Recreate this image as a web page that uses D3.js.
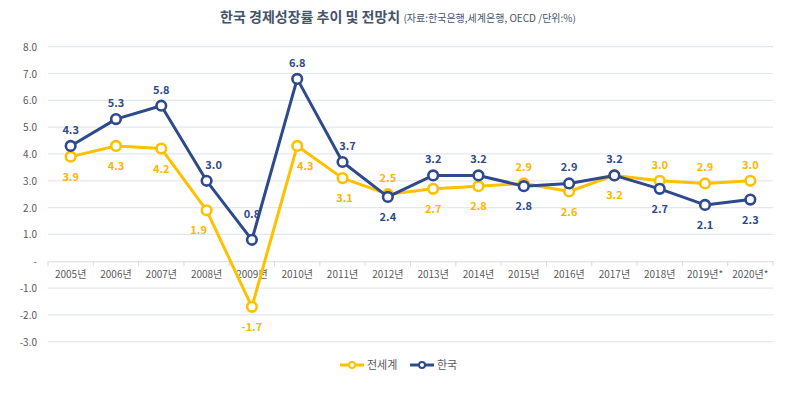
<!DOCTYPE html>
<html>
<head>
<meta charset="utf-8">
<script src="https://cdn.jsdelivr.net/npm/d3@7"></script>
<style>
  body { margin: 0; background: #fff; }
  text { font-family: "Noto Sans CJK KR", "Noto Sans", sans-serif; }
</style>
</head>
<body>
<div id="chart"></div>
<script>
// 데이터
const years = ["2005년","2006년","2007년","2008년","2009년","2010년","2011년","2012년",
  "2013년","2014년","2015년","2016년","2017년","2018년","2019년*","2020년*"];
const world = [3.9,4.3,4.2,1.9,-1.7,4.3,3.1,2.5,2.7,2.8,2.9,2.6,3.2,3.0,2.9,3.0];
const korea = [4.3,5.3,5.8,3.0,0.8,6.8,3.7,2.4,3.2,3.2,2.8,2.9,3.2,2.7,2.1,2.3];
const yTicks = [8,7,6,5,4,3,2,1,0,-1,-2,-3];

// 라벨 위치 보정 (엑셀 자동 배치 흉내)
const nudge = {
  "한국|2008년": [7, 0], "한국|2009년": [0, -10], "한국|2011년": [5, 0],
  "전세계|2008년": [-8, 0], "전세계|2010년": [8, 0], "전세계|2011년": [2, 0]
};

const width = 800, height = 393;
const margin = { left: 48, right: 27, top: 46.7, bottom: 51.3 };

const svg = d3.select("#chart").append("svg")
  .attr("width", width).attr("height", height);

const x = d3.scaleBand().domain(years).range([margin.left, width - margin.right]);
const y = d3.scaleLinear().domain([-3, 8]).range([height - margin.bottom, margin.top]);

// 그리드
svg.append("g").selectAll("line")
  .data(yTicks.filter(d => d !== 0))
  .enter().append("line")
  .attr("x1", margin.left).attr("x2", width - margin.right)
  .attr("y1", d => y(d)).attr("y2", d => y(d))
  .attr("stroke", "#e3e7ee").attr("stroke-width", 1.2);

// y축 라벨
svg.append("g").selectAll("text")
  .data(yTicks)
  .enter().append("text")
  .attr("x", 37).attr("y", d => y(d) + 4)
  .attr("text-anchor", "end")
  .attr("font-size", 10).attr("fill", "#595959")
  .text(d => d === 0 ? "-" : d.toFixed(1));

// x축 (0 기준선)
const xAxis = d3.axisBottom(x).tickSize(0).tickPadding(10);
const gx = svg.append("g").attr("transform", `translate(0,${y(0)})`).call(xAxis);
gx.select(".domain").attr("stroke", "#d9d9d9");
gx.selectAll("text").attr("font-size", 10).attr("fill", "#595959")
  .attr("font-family", "'Noto Sans CJK KR', sans-serif");
gx.append("g").selectAll("line")
  .data(years.concat([null]))
  .enter().append("line")
  .attr("x1", (d, i) => margin.left + i * x.step())
  .attr("x2", (d, i) => margin.left + i * x.step())
  .attr("y1", 0).attr("y2", 5)
  .attr("stroke", "#d9d9d9");

const cx = d => x(d) + x.bandwidth() / 2;
const line = d3.line().x(d => cx(d.year)).y(d => y(d.v));

const series = [
  { name: "전세계", values: world, other: korea, color: "#ffc000", labelColor: "#ffb400", tie: 1 },
  { name: "한국", values: korea, other: world, color: "#2e4a8c", labelColor: "#2e4a8c", tie: -1 }
];

series.forEach(s => {
  const pts = s.values.map((v, i) => ({ year: years[i], v, o: s.other[i] }));
  svg.append("path").datum(pts)
    .attr("fill", "none").attr("stroke", s.color)
    .attr("stroke-width", 3).attr("stroke-linejoin", "round")
    .attr("d", line);
  svg.append("g").selectAll("circle").data(pts).enter().append("circle")
    .attr("cx", d => cx(d.year)).attr("cy", d => y(d.v))
    .attr("r", 4.8).attr("fill", "#fff")
    .attr("stroke", s.color).attr("stroke-width", 2.6);
  svg.append("g").selectAll("text").data(pts).enter().append("text")
    .attr("x", d => cx(d.year) + (nudge[s.name + "|" + d.year] || [0, 0])[0])
    .attr("y", d => {
      const above = d.v > d.o || (d.v === d.o && s.tie < 0);
      const dy = (nudge[s.name + "|" + d.year] || [0, 0])[1];
      return (above ? y(d.v) - 12 : y(d.v) + 24) + dy;
    })
    .attr("text-anchor", "middle")
    .attr("font-size", 11).attr("font-weight", "bold")
    .attr("fill", s.labelColor)
    .text(d => d.v.toFixed(1));
});

// 제목
const title = svg.append("text").attr("x", 398).attr("y", 22).attr("text-anchor", "middle");
title.append("tspan").attr("font-size", 14).attr("font-weight", "bold").attr("fill", "#44546a")
  .text("한국 경제성장률 추이 및 전망치 ");
title.append("tspan").attr("font-size", 10).attr("fill", "#44546a")
  .text("(자료:한국은행,세계은행, OECD /단위:%)");

// 범례
const legend = svg.append("g").attr("transform", "translate(340,365)");
series.forEach((s, i) => {
  const g = legend.append("g").attr("transform", `translate(${i * 70},0)`);
  g.append("line").attr("x1", 0).attr("x2", 24).attr("y1", 0).attr("y2", 0)
    .attr("stroke", s.color).attr("stroke-width", 3);
  g.append("circle").attr("cx", 12).attr("cy", 0).attr("r", 3)
    .attr("fill", "#fff").attr("stroke", s.color).attr("stroke-width", 2);
  g.append("text").attr("x", 27).attr("y", 4).attr("font-size", 11)
    .attr("fill", "#595959").text(s.name);
});
</script>
</body>
</html>
